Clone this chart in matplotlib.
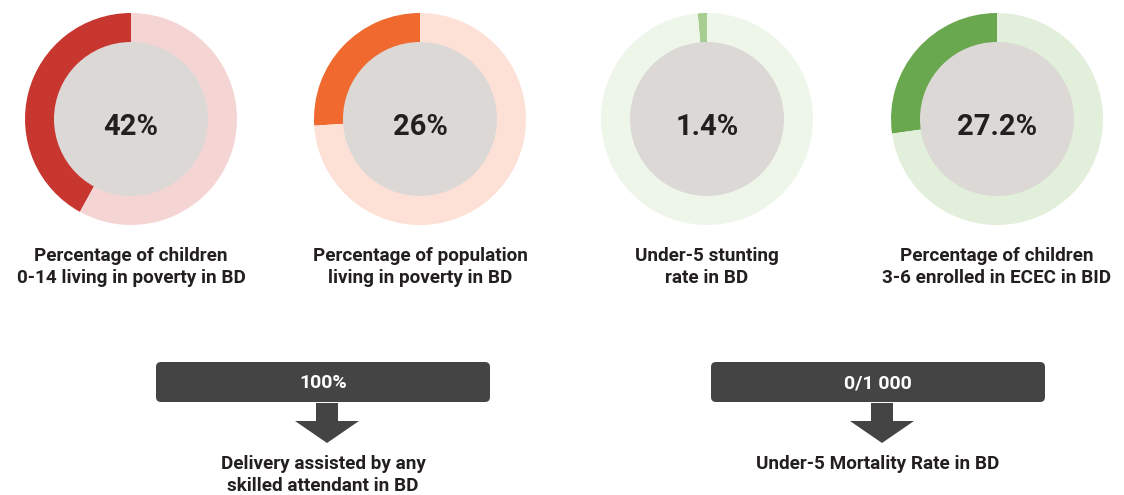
import matplotlib
matplotlib.use('Agg')
import matplotlib.pyplot as plt
from matplotlib.patches import FancyBboxPatch, Circle, FancyArrow

plt.rcParams['font.family'] = ['Roboto', 'DejaVu Sans']

# donut indicators
donut_values = [42, 26, 1.4, 27.2]
donut_texts = ['42%', '26%', '1.4%', '27.2%']
donut_labels = ['Percentage of children\n0-14 living in poverty in BD',
                'Percentage of population\nliving in poverty in BD',
                'Under-5 stunting\nrate in BD',
                'Percentage of children\n3-6 enrolled in ECEC in BID']
donut_colors = [('#c8372f', '#f5d5d3'),
                ('#f0692e', '#fde1d6'),
                ('#a7cd90', '#eef6ea'),
                ('#6aa84f', '#e2efda')]

# boxed indicators
box_texts = ['100%', '0/1 000']
box_labels = ['Delivery assisted by any\nskilled attendant in BD',
              'Under-5 Mortality Rate in BD']

W, H = 1124, 495
fig = plt.figure(figsize=(W / 100, H / 100), dpi=100)
ax = fig.add_axes([0, 0, 1, 1])

dark = '#231f20'
cx_list = [131, 420, 707, 997]
cy = H - 119
r_out, r_in = 106, 77

for cx, val, txt, lab, (c1, c2) in zip(cx_list, donut_values, donut_texts,
                                       donut_labels, donut_colors):
    ax.pie([val, 100 - val], colors=[c1, c2], startangle=90,
           center=(cx, cy), radius=r_out, counterclock=True,
           wedgeprops=dict(width=r_out - r_in + 2, linewidth=0))
    ax.add_patch(Circle((cx, cy), r_in, color='#dcd8d6', lw=0, zorder=3))
    ax.text(cx, cy - 8, txt, ha='center', va='center', fontsize=21,
            fontweight='bold', color=dark, zorder=4)
    ax.text(cx, H - 267, lab, ha='center', va='center', fontsize=13.6,
            fontweight='bold', color=dark, linespacing=1.35)

box_cx = [323, 878]
for bx, txt, lab in zip(box_cx, box_texts, box_labels):
    box = FancyBboxPatch((bx - 167, H - 402), 334, 40,
                         boxstyle='round,pad=0,rounding_size=5',
                         fc='#444444', ec='none', zorder=2)
    ax.add_patch(box)
    ax.text(bx, H - 383, txt, ha='center', va='center', fontsize=14,
            fontweight='bold', color='white', zorder=3)
    ax.add_patch(FancyArrow(bx + 4, H - 403, 0, -40, width=22,
                            head_width=64, head_length=22,
                            length_includes_head=True, fc='#444444',
                            ec='none', zorder=2))
    n = lab.count('\n')
    ax.text(bx, H - 464 - 11 * n, lab, ha='center', va='center',
            fontsize=13.6, fontweight='bold', color=dark, linespacing=1.3)

ax.set_xlim(0, W)
ax.set_ylim(0, H)
ax.set_aspect('auto')
ax.axis('off')

fig.savefig('out.png', dpi=100, facecolor='white')
